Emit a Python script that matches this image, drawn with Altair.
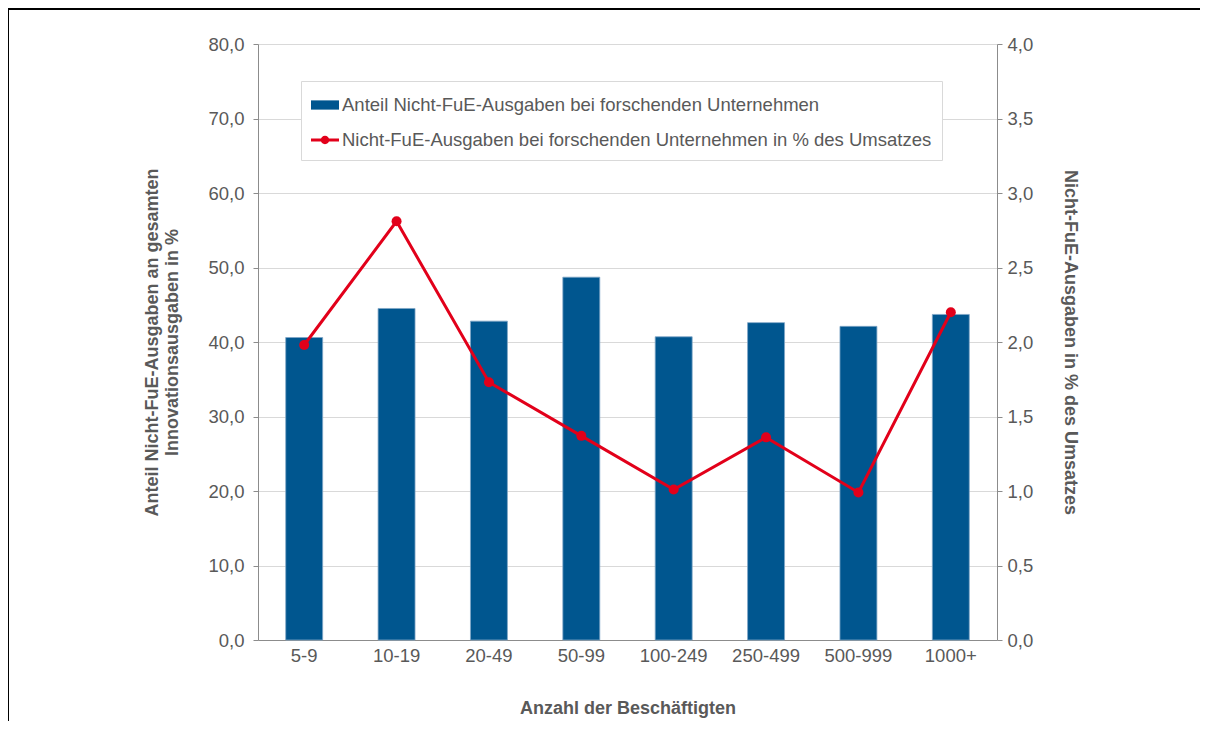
import altair as alt
import pandas as pd

categories = ["5-9", "10-19", "20-49", "50-99", "100-249", "250-499", "500-999", "1000+"]
share_values = [40.6, 44.5, 42.8, 48.7, 40.7, 42.6, 42.1, 43.7]
pct_revenue = [1.98, 2.81, 1.73, 1.37, 1.01, 1.36, 0.99, 2.20]
series_names = [
    "Anteil Nicht-FuE-Ausgaben bei forschenden Unternehmen",
    "Nicht-FuE-Ausgaben bei forschenden Unternehmen in % des Umsatzes",
]
left_ticks = [0, 10, 20, 30, 40, 50, 60, 70, 80]
right_ticks = [0, 0.5, 1, 1.5, 2, 2.5, 3, 3.5, 4]

df = pd.DataFrame({"cat": categories, "share": share_values, "pct": pct_revenue})
legend_df = pd.DataFrame({"series": series_names})

W, H = 739, 596
BLUE = "#00568f"
RED = "#e2001a"
GRAY = "#595959"
AXIS = "#8c8c8c"
GRID = "#d9d9d9"
FONT = "Liberation Sans"
LABEL_SIZE = 18.5
TITLE_SIZE = 18
FMT = "replace(format(datum.value, '.1f'), '.', ',')"

# legend glyphs (filled paths, unit box [-1, 1])
PATH_BAR = "M-1,-0.33H1V0.33H-1Z"
PATH_LINE = "M-1,-0.1H1V0.1H-1Z M-0.3,0A0.3,0.3 0 1,1 0.3,0A0.3,0.3 0 1,1 -0.3,0Z"

legend = alt.Legend(
    title=None,
    orient="none",
    legendX=43,
    legendY=37,
    fillColor="white",
    strokeColor=GRID,
    padding=10,
    labelFont=FONT,
    labelFontSize=LABEL_SIZE,
    labelColor=GRAY,
    labelOffset=3,
    labelLimit=800,
    symbolSize=784,
    symbolStrokeWidth=0,
    symbolOpacity=1,
    rowPadding=11,
)

xenc = alt.X(
    "cat:N",
    sort=categories,
    scale=alt.Scale(paddingInner=0.6, paddingOuter=0.3),
    axis=alt.Axis(
        title="Anzahl der Beschäftigten",
        labelAngle=0,
        ticks=False,
        grid=False,
        domainColor=AXIS,
        labelPadding=6,
        titlePadding=35,
    ),
)

bars = alt.Chart(df).mark_bar(color=BLUE, stroke="#7fa6c6", strokeWidth=0.8).encode(
    x=xenc,
    y=alt.Y(
        "share:Q",
        scale=alt.Scale(domain=[0, 80], nice=False),
        axis=alt.Axis(
            values=left_ticks,
            labelExpr=FMT,
            title=["Anteil Nicht-FuE-Ausgaben an gesamten", "Innovationsausgaben in %"],
            titleLineHeight=20,
            grid=True,
            gridColor=GRID,
            domainColor=AXIS,
            tickColor=AXIS,
            tickSize=5,
            labelPadding=9,
            titlePadding=26,
        ),
    ),
)

line = alt.Chart(df).mark_line(
    color=RED, strokeWidth=3, point=alt.OverlayMarkDef(filled=True, size=100, color=RED, opacity=1)
).encode(
    x=xenc,
    y=alt.Y(
        "pct:Q",
        scale=alt.Scale(domain=[0, 4], nice=False),
        axis=alt.Axis(
            orient="right",
            values=right_ticks,
            labelExpr=FMT,
            title="Nicht-FuE-Ausgaben in % des Umsatzes",
            grid=False,
            domainColor=AXIS,
            tickColor=AXIS,
            tickSize=5,
            labelPadding=5,
            titlePadding=28,
        ),
    ),
)

legend_layer = (
    alt.Chart(legend_df)
    .mark_point(filled=True, opacity=1)
    .encode(
        color=alt.Color("series:N", scale=alt.Scale(domain=series_names, range=[BLUE, RED]), legend=legend),
        shape=alt.Shape("series:N", scale=alt.Scale(domain=series_names, range=[PATH_BAR, PATH_LINE]), legend=legend),
    )
    .transform_filter("false")
)

frame = alt.Chart(pd.DataFrame({"a": [0]})).mark_rect(
    fill=None, stroke="black", strokeWidth=2
).encode(
    x=alt.value(-250),
    x2=alt.value(W + 300),
    y=alt.value(-35),
    y2=alt.value(H + 200),
)

chart = (
    alt.layer(bars, line, legend_layer, frame)
    .resolve_scale(y="independent")
    .properties(
        width=W,
        height=H,
        autosize=alt.AutoSizeParams(type="none"),
        padding={"left": 250, "top": 36, "right": 203, "bottom": 81},
    )
    .configure_view(stroke=None)
    .configure_axis(
        labelFont=FONT,
        labelFontSize=LABEL_SIZE,
        labelColor=GRAY,
        titleFont=FONT,
        titleFontSize=TITLE_SIZE,
        titleFontWeight="bold",
        titleColor=GRAY,
    )
)

chart.save("out.html", embed_options={"renderer": "svg", "actions": False})
